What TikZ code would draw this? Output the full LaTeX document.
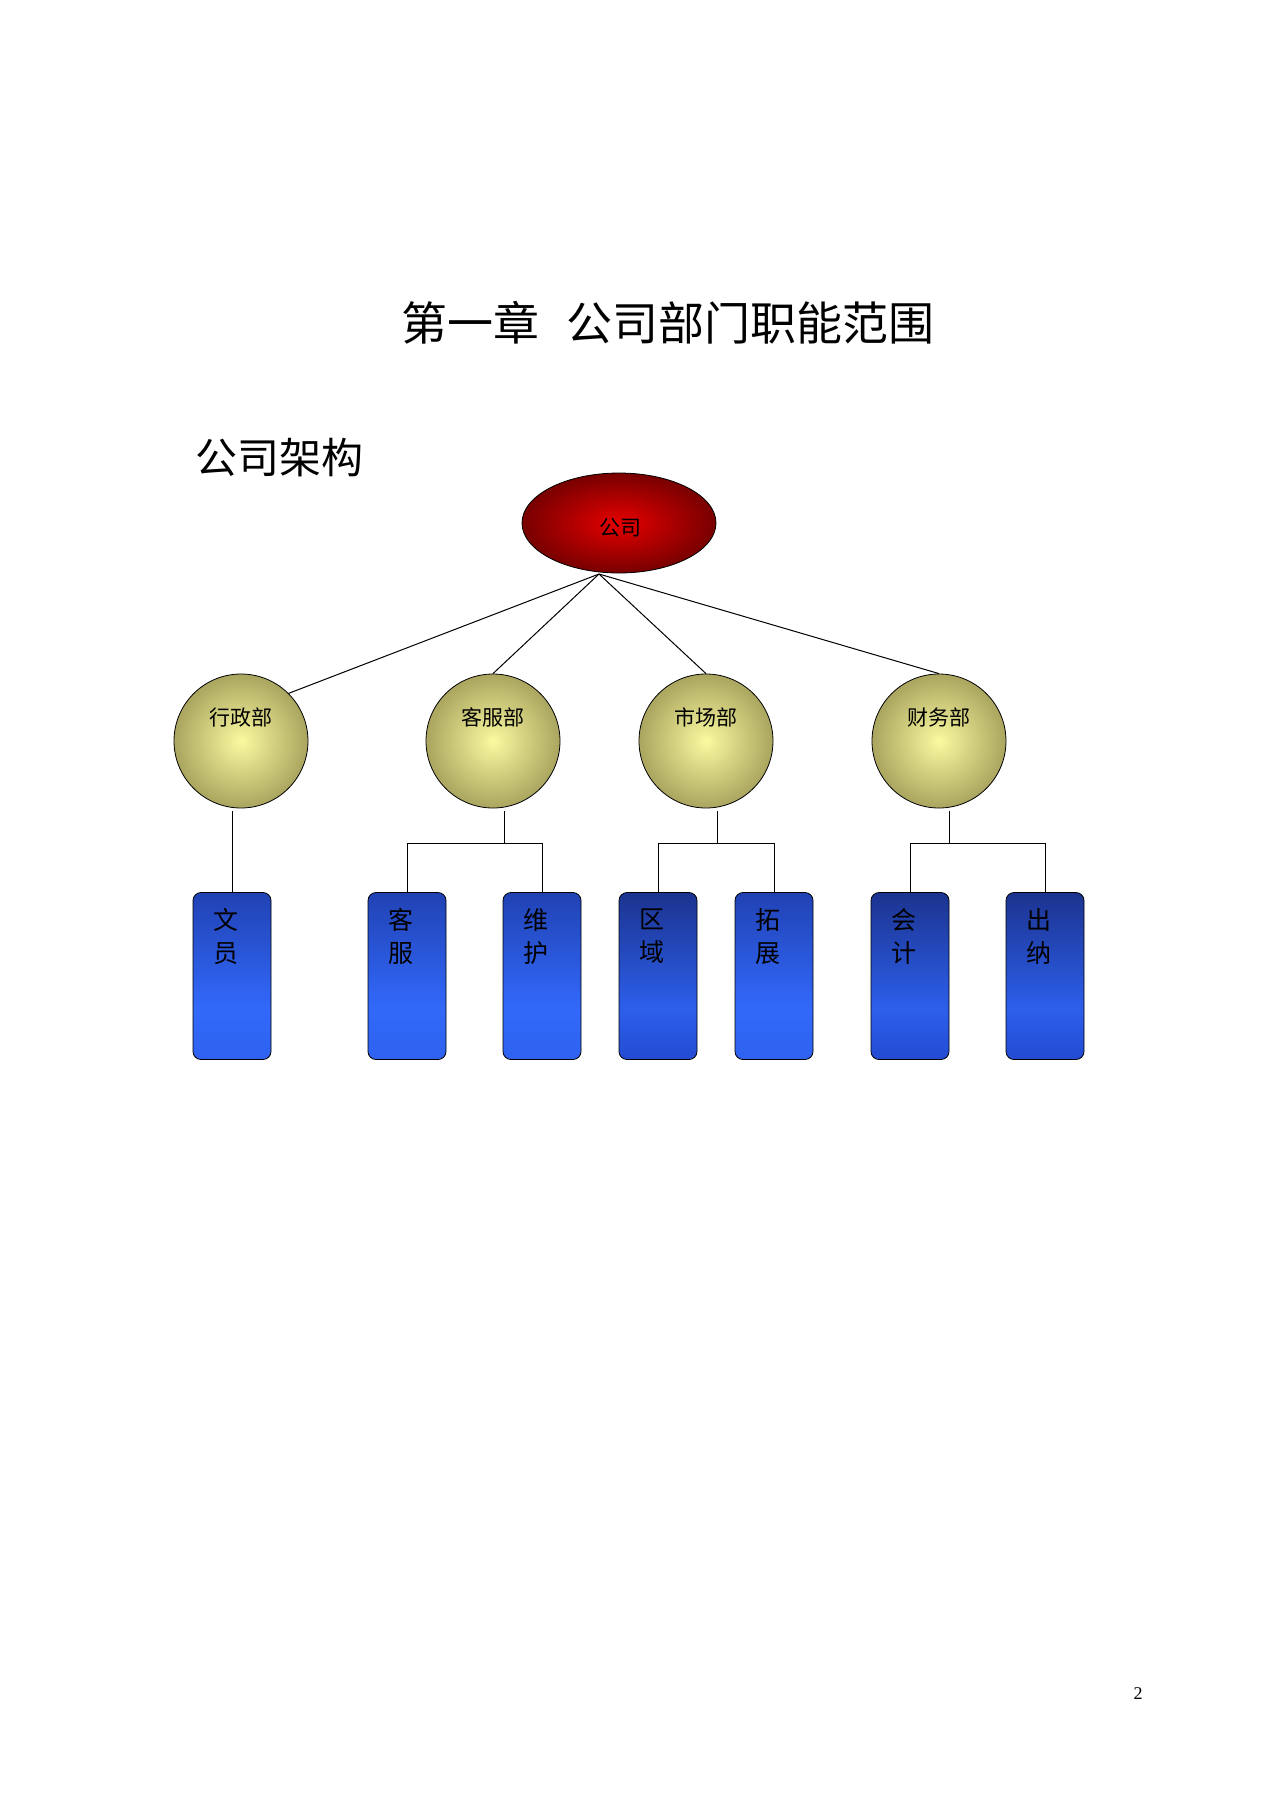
\documentclass[tikz,border=0pt]{standalone}
\usepackage{fontspec}
\newfontfamily\cjk{Noto Sans CJK SC}
\setmainfont{Liberation Serif}
\usetikzlibrary{shapes.geometric}
\pgfdeclareverticalshading{boxshade}{100bp}{
  color(0bp)=(rgb,255:red,20;green,35;blue,110);
  color(20bp)=(rgb,255:red,45;green,95;blue,235);
  color(40bp)=(rgb,255:red,50;green,105;blue,250);
  color(80bp)=(rgb,255:red,30;green,60;blue,170);
  color(100bp)=(rgb,255:red,20;green,35;blue,110)}
\pgfdeclareverticalshading{boxshadedark}{100bp}{
  color(0bp)=(rgb,255:red,15;green,25;blue,80);
  color(25bp)=(rgb,255:red,35;green,75;blue,210);
  color(40bp)=(rgb,255:red,45;green,95;blue,235);
  color(80bp)=(rgb,255:red,25;green,45;blue,130);
  color(100bp)=(rgb,255:red,15;green,25;blue,80)}
\definecolor{rd}{RGB}{230,0,0}
\definecolor{drd}{RGB}{120,0,0}
\definecolor{ly}{RGB}{250,250,160}
\definecolor{ol}{RGB}{170,165,95}
\tikzset{
  comp/.style={ellipse, draw=black, thick, minimum width=194pt, minimum height=100pt, inner color=rd, outer color=drd},
  dept/.style={circle, draw=black, thick, minimum size=134pt, inner color=ly, outer color=ol},
  ubox/.style={draw=black, thick, rounded corners=8pt, minimum width=78pt, minimum height=167pt, shading=boxshade},
  ubox2/.style={ubox, shading=boxshadedark},
  lbl/.style={font=\cjk\fontsize{21}{24}\selectfont},
  blbl/.style={font=\cjk\fontsize{25}{33}\selectfont, align=center},
  conn/.style={draw=black, line width=1pt}
}
\begin{document}
\begin{tikzpicture}[x=1pt,y=-1pt]
\useasboundingbox (0,0) rectangle (1280,1810);
\fill[white] (0,0) rectangle (1280,1810);
\node (title) at (668,323) {\cjk\fontsize{46}{50}\selectfont 第一章\hspace{0.6em}公司部门职能范围};
\node[anchor=west] (sub) at (192,458) {\cjk\fontsize{42}{46}\selectfont 公司架构};
\node[comp] (c) at (619,523) {};
\node[lbl] at (620,528) {公司};
\coordinate (cb) at (599,574);
\foreach \n/\x/\t in {d1/241/行政部, d2/493/客服部, d3/706/市场部, d4/939/财务部}{
  \node[dept] (\n) at (\x,741) {};
  \node[lbl] at (\x,717) {\t};
}
\draw[conn] (cb) -- (d1.north east);
\draw[conn] (cb) -- (d2.north);
\draw[conn] (cb) -- (d3.north);
\draw[conn] (cb) -- (d4.north);
% boxes
\foreach \n/\x/\s/\a/\b in {b1/232/ubox/文/员, b2/407/ubox/客/服, b3/542/ubox/维/护, b4/658/ubox2/区/域, b5/774/ubox/拓/展, b6/910/ubox2/会/计, b7/1045/ubox2/出/纳}{
  \node[\s] (\n) at (\x,976) {};
  \node[blbl, anchor=north] at (\x-6,905) {\a\\\b};
}
\coordinate (j2) at (504,843);
\coordinate (j3) at (717,843);
\coordinate (j4) at (949,843);
\draw[conn] (232,811) -- (b1.north);
\draw[conn] (504,811) -- (j2);
\draw[conn] (b2.north) |- (j2) -| (b3.north);
\draw[conn] (717,811) -- (j3);
\draw[conn] (b4.north) |- (j3) -| (b5.north);
\draw[conn] (949,811) -- (j4);
\draw[conn] (b6.north) |- (j4) -| (b7.north);
\node (pg) at (1138,1694) {\fontsize{18}{20}\selectfont 2};
\end{tikzpicture}
\end{document}
